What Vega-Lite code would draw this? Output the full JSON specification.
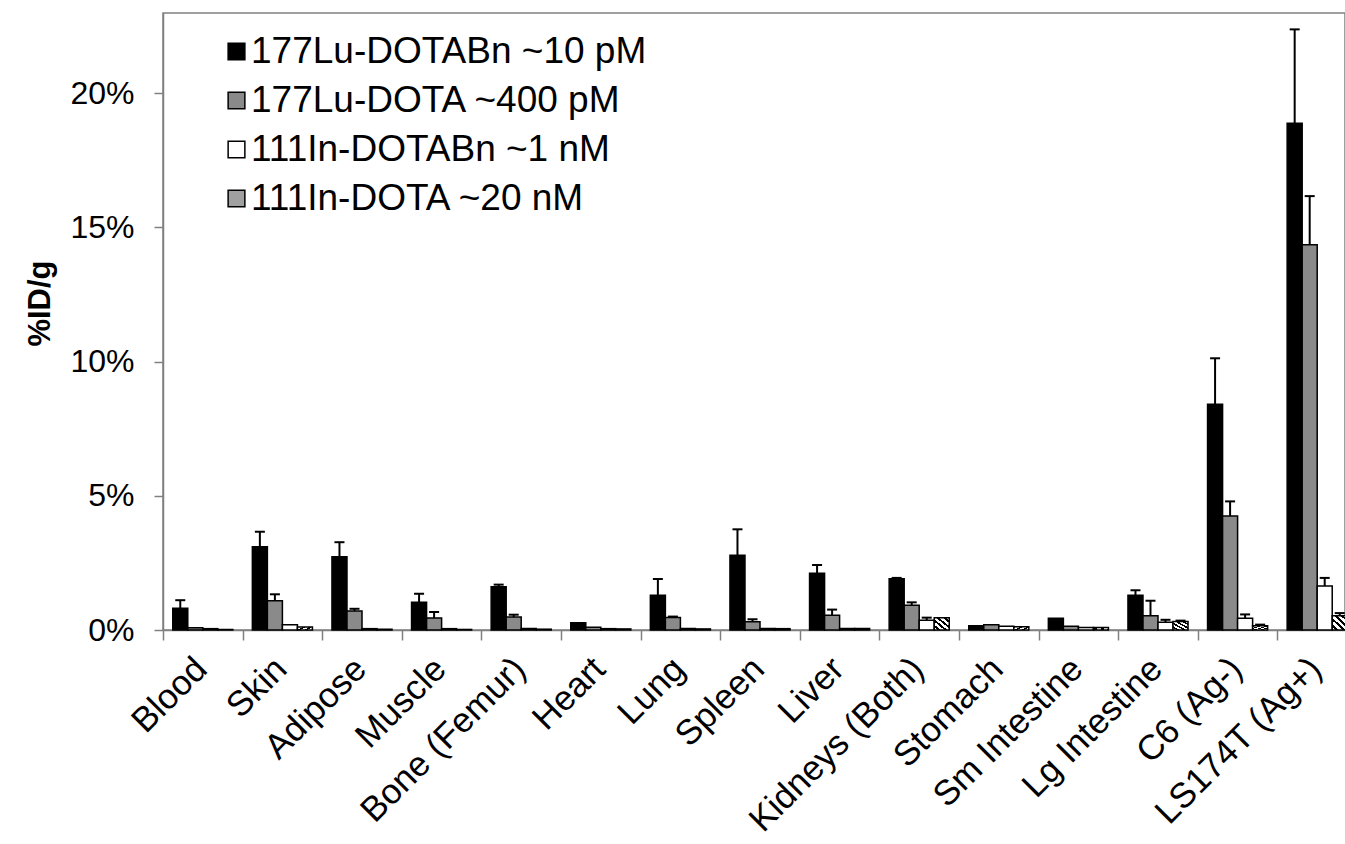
{
  "$schema": "https://vega.github.io/schema/vega-lite/v6.json",
  "autosize": "none",
  "width": 1182,
  "height": 617,
  "padding": {"left": 163, "top": 13, "right": 0, "bottom": 214},
  "background": "white",
  "config": {
    "font": "Liberation Sans",
    "view": {"stroke": "#808080", "strokeWidth": 1.5}
  },
  "data": {
    "values": [
      {"organ": "Blood", "series": "177Lu-DOTABn ~10 pM", "value": 0.81, "err": 1.11},
      {"organ": "Blood", "series": "177Lu-DOTA ~400 pM", "value": 0.08, "err": null},
      {"organ": "Blood", "series": "111In-DOTABn ~1 nM", "value": 0.05, "err": null},
      {"organ": "Blood", "series": "111In-DOTA ~20 nM", "value": 0.02, "err": null},
      {"organ": "Skin", "series": "177Lu-DOTABn ~10 pM", "value": 3.10, "err": 3.66},
      {"organ": "Skin", "series": "177Lu-DOTA ~400 pM", "value": 1.09, "err": 1.33},
      {"organ": "Skin", "series": "111In-DOTABn ~1 nM", "value": 0.20, "err": null},
      {"organ": "Skin", "series": "111In-DOTA ~20 nM", "value": 0.11, "err": null},
      {"organ": "Adipose", "series": "177Lu-DOTABn ~10 pM", "value": 2.73, "err": 3.27},
      {"organ": "Adipose", "series": "177Lu-DOTA ~400 pM", "value": 0.71, "err": 0.79},
      {"organ": "Adipose", "series": "111In-DOTABn ~1 nM", "value": 0.05, "err": null},
      {"organ": "Adipose", "series": "111In-DOTA ~20 nM", "value": 0.03, "err": null},
      {"organ": "Muscle", "series": "177Lu-DOTABn ~10 pM", "value": 1.03, "err": 1.35},
      {"organ": "Muscle", "series": "177Lu-DOTA ~400 pM", "value": 0.45, "err": 0.67},
      {"organ": "Muscle", "series": "111In-DOTABn ~1 nM", "value": 0.05, "err": null},
      {"organ": "Muscle", "series": "111In-DOTA ~20 nM", "value": 0.02, "err": null},
      {"organ": "Bone (Femur)", "series": "177Lu-DOTABn ~10 pM", "value": 1.61, "err": 1.69},
      {"organ": "Bone (Femur)", "series": "177Lu-DOTA ~400 pM", "value": 0.48, "err": 0.57},
      {"organ": "Bone (Femur)", "series": "111In-DOTABn ~1 nM", "value": 0.06, "err": null},
      {"organ": "Bone (Femur)", "series": "111In-DOTA ~20 nM", "value": 0.03, "err": null},
      {"organ": "Heart", "series": "177Lu-DOTABn ~10 pM", "value": 0.27, "err": null},
      {"organ": "Heart", "series": "177Lu-DOTA ~400 pM", "value": 0.10, "err": null},
      {"organ": "Heart", "series": "111In-DOTABn ~1 nM", "value": 0.05, "err": null},
      {"organ": "Heart", "series": "111In-DOTA ~20 nM", "value": 0.04, "err": null},
      {"organ": "Lung", "series": "177Lu-DOTABn ~10 pM", "value": 1.29, "err": 1.90},
      {"organ": "Lung", "series": "177Lu-DOTA ~400 pM", "value": 0.47, "err": 0.50},
      {"organ": "Lung", "series": "111In-DOTABn ~1 nM", "value": 0.06, "err": null},
      {"organ": "Lung", "series": "111In-DOTA ~20 nM", "value": 0.04, "err": null},
      {"organ": "Spleen", "series": "177Lu-DOTABn ~10 pM", "value": 2.78, "err": 3.75},
      {"organ": "Spleen", "series": "177Lu-DOTA ~400 pM", "value": 0.31, "err": 0.40},
      {"organ": "Spleen", "series": "111In-DOTABn ~1 nM", "value": 0.06, "err": null},
      {"organ": "Spleen", "series": "111In-DOTA ~20 nM", "value": 0.05, "err": null},
      {"organ": "Liver", "series": "177Lu-DOTABn ~10 pM", "value": 2.11, "err": 2.42},
      {"organ": "Liver", "series": "177Lu-DOTA ~400 pM", "value": 0.55, "err": 0.76},
      {"organ": "Liver", "series": "111In-DOTABn ~1 nM", "value": 0.06, "err": null},
      {"organ": "Liver", "series": "111In-DOTA ~20 nM", "value": 0.06, "err": null},
      {"organ": "Kidneys (Both)", "series": "177Lu-DOTABn ~10 pM", "value": 1.91, "err": 1.94},
      {"organ": "Kidneys (Both)", "series": "177Lu-DOTA ~400 pM", "value": 0.92, "err": 1.03},
      {"organ": "Kidneys (Both)", "series": "111In-DOTABn ~1 nM", "value": 0.36, "err": 0.46},
      {"organ": "Kidneys (Both)", "series": "111In-DOTA ~20 nM", "value": 0.46, "err": null},
      {"organ": "Stomach", "series": "177Lu-DOTABn ~10 pM", "value": 0.16, "err": null},
      {"organ": "Stomach", "series": "177Lu-DOTA ~400 pM", "value": 0.20, "err": null},
      {"organ": "Stomach", "series": "111In-DOTABn ~1 nM", "value": 0.14, "err": null},
      {"organ": "Stomach", "series": "111In-DOTA ~20 nM", "value": 0.12, "err": null},
      {"organ": "Sm Intestine", "series": "177Lu-DOTABn ~10 pM", "value": 0.44, "err": null},
      {"organ": "Sm Intestine", "series": "177Lu-DOTA ~400 pM", "value": 0.14, "err": null},
      {"organ": "Sm Intestine", "series": "111In-DOTABn ~1 nM", "value": 0.09, "err": null},
      {"organ": "Sm Intestine", "series": "111In-DOTA ~20 nM", "value": 0.09, "err": null},
      {"organ": "Lg Intestine", "series": "177Lu-DOTABn ~10 pM", "value": 1.29, "err": 1.48},
      {"organ": "Lg Intestine", "series": "177Lu-DOTA ~400 pM", "value": 0.53, "err": 1.09},
      {"organ": "Lg Intestine", "series": "111In-DOTABn ~1 nM", "value": 0.29, "err": 0.38},
      {"organ": "Lg Intestine", "series": "111In-DOTA ~20 nM", "value": 0.32, "err": 0.35},
      {"organ": "C6 (Ag-)", "series": "177Lu-DOTABn ~10 pM", "value": 8.41, "err": 10.12},
      {"organ": "C6 (Ag-)", "series": "177Lu-DOTA ~400 pM", "value": 4.25, "err": 4.79},
      {"organ": "C6 (Ag-)", "series": "111In-DOTABn ~1 nM", "value": 0.44, "err": 0.58},
      {"organ": "C6 (Ag-)", "series": "111In-DOTA ~20 nM", "value": 0.16, "err": 0.20},
      {"organ": "LS174T (Ag+)", "series": "177Lu-DOTABn ~10 pM", "value": 18.87, "err": 22.37},
      {"organ": "LS174T (Ag+)", "series": "177Lu-DOTA ~400 pM", "value": 14.35, "err": 16.16},
      {"organ": "LS174T (Ag+)", "series": "111In-DOTABn ~1 nM", "value": 1.64, "err": 1.94},
      {"organ": "LS174T (Ag+)", "series": "111In-DOTA ~20 nM", "value": 0.53, "err": 0.63}
    ]
  },
  "encoding": {
    "x": {
      "field": "organ", "type": "nominal", "sort": null,
      "scale": {"range": [0, 1194], "paddingInner": 0, "paddingOuter": 0},
      "axis": {
        "title": null, "labelAngle": -45, "labelAlign": "right", "labelBaseline": "top",
        "labelFontSize": 35, "labelColor": "black", "labelPadding": 11, "labelOffset": -14,
        "tickBand": "extent", "tickSize": 10, "tickColor": "#808080", "tickWidth": 1.5,
        "domainColor": "#808080", "domainWidth": 1.5, "labelOverlap": false, "labelLimit": 0
      }
    },
    "xOffset": {
      "field": "series", "type": "nominal", "sort": null,
      "scale": {"paddingOuter": 0.65, "paddingInner": 0}
    },
    "y": {
      "field": "value", "type": "quantitative",
      "scale": {"domain": [0, 22.98], "nice": false, "zero": true},
      "axis": {
        "title": "%ID/g", "titleFontSize": 31, "titleFontWeight": "bold", "titleColor": "black",
        "titleX": -123, "titleY": 290, "titleAngle": -90, "titleAlign": "center", "titleBaseline": "middle",
        "values": [0, 5, 10, 15, 20], "labelExpr": "datum.value + '%'",
        "labelFontSize": 32, "labelColor": "black", "labelPadding": 20,
        "tickSize": 9, "tickColor": "#808080", "tickWidth": 1.5,
        "domainColor": "#808080", "domainWidth": 1.5, "grid": false
      }
    }
  },
  "layer": [
    {
      "mark": {"type": "bar", "stroke": "black", "strokeWidth": 1.5, "opacity": 1},
      "encoding": {
        "fill": {
          "field": "series", "type": "nominal", "sort": null,
          "scale": {
            "domain": ["177Lu-DOTABn ~10 pM", "177Lu-DOTA ~400 pM", "111In-DOTABn ~1 nM", "111In-DOTA ~20 nM"],
            "range": ["#000000", "#8a8a8a", "#ffffff", "#a0a0a0"]
          },
          "condition": {
            "test": "datum.series === '111In-DOTA ~20 nM'",
            "value": {"gradient": "linear", "x1": 0, "y1": 1, "x2": 1, "y2": 0,
               "stops": [
                 {"offset": 0, "color": "#ffffff"}, {"offset": 0.12, "color": "#ffffff"},
                 {"offset": 0.12, "color": "#000000"}, {"offset": 0.22, "color": "#000000"},
                 {"offset": 0.22, "color": "#ffffff"}, {"offset": 0.34, "color": "#ffffff"},
                 {"offset": 0.34, "color": "#000000"}, {"offset": 0.44, "color": "#000000"},
                 {"offset": 0.44, "color": "#ffffff"}, {"offset": 0.56, "color": "#ffffff"},
                 {"offset": 0.56, "color": "#000000"}, {"offset": 0.66, "color": "#000000"},
                 {"offset": 0.66, "color": "#ffffff"}, {"offset": 0.78, "color": "#ffffff"},
                 {"offset": 0.78, "color": "#000000"}, {"offset": 0.88, "color": "#000000"},
                 {"offset": 0.88, "color": "#ffffff"}, {"offset": 1, "color": "#ffffff"}
               ]}
          },
          "legend": {
            "title": null, "orient": "none", "legendX": 55, "legendY": 20,
            "symbolType": "square", "symbolSize": 280, "symbolStrokeColor": "black", "symbolStrokeWidth": 1.5,
            "symbolOpacity": 1,
            "labelFontSize": 37, "labelColor": "black", "labelOffset": -4, "rowPadding": 11, "labelLimit": 0,
            "encode": {
              "symbols": {
                "update": {
                  "stroke": {"value": "black"},
                  "strokeWidth": {"value": 1.5},
                  "opacity": {"value": 1},
                  "fill": {"signal": "datum.index === 3 ? {gradient: 'linear', x1: 0, y1: 1, x2: 1, y2: 0, stops: [{offset: 0, color: '#ffffff'}, {offset: 0.12, color: '#ffffff'}, {offset: 0.12, color: '#000000'}, {offset: 0.22, color: '#000000'}, {offset: 0.22, color: '#ffffff'}, {offset: 0.34, color: '#ffffff'}, {offset: 0.34, color: '#000000'}, {offset: 0.44, color: '#000000'}, {offset: 0.44, color: '#ffffff'}, {offset: 0.56, color: '#ffffff'}, {offset: 0.56, color: '#000000'}, {offset: 0.66, color: '#000000'}, {offset: 0.66, color: '#ffffff'}, {offset: 0.78, color: '#ffffff'}, {offset: 0.78, color: '#000000'}, {offset: 0.88, color: '#000000'}, {offset: 0.88, color: '#ffffff'}, {offset: 1, color: '#ffffff'}]} : scale('fill', datum.value)"}
                }
              }
            }
          }
        }
      }
    },
    {
      "transform": [{"filter": "datum.err != null"}],
      "mark": {"type": "rule", "color": "black", "strokeWidth": 2},
      "encoding": {"y2": {"field": "err"}}
    },
    {
      "transform": [{"filter": "datum.err != null"}],
      "mark": {"type": "tick", "color": "black", "thickness": 2, "size": 10, "opacity": 1},
      "encoding": {"y": {"field": "err", "type": "quantitative"}}
    }
  ]
}
